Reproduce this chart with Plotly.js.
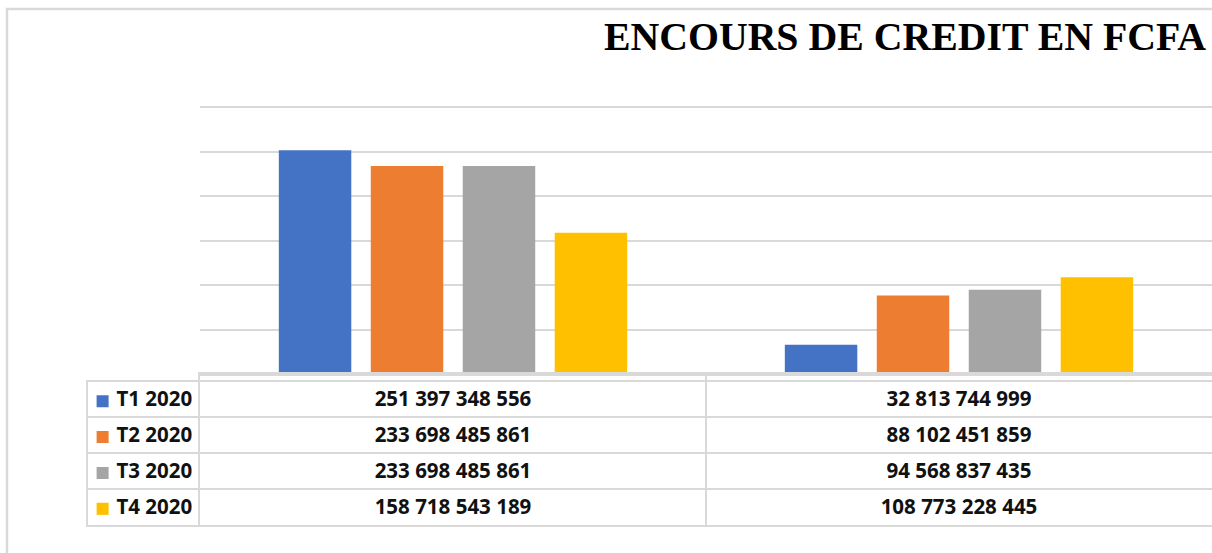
<!DOCTYPE html>
<html>
<head>
<meta charset="utf-8">
<script src="https://cdn.plot.ly/plotly-3.0.1.min.js"></script>
<style>html,body{margin:0;padding:0;background:#fff;}#chart{width:1212px;height:553px;}</style>
</head>
<body>
<div id="chart"></div>
<script>
// ---- data ----
var categories = ['Catégorie 1', 'Catégorie 2'];
var seriesNames = ['T1 2020', 'T2 2020', 'T3 2020', 'T4 2020'];
var t1 = [251397348556, 32813744999];
var t2 = [233698485861, 88102451859];
var t3 = [233698485861, 94568837435];
var t4 = [158718543189, 108773228445];
var seriesColors = ['#4472C4', '#ED7D31', '#A5A5A5', '#FFC000'];
var chartTitle = 'ENCOURS DE CREDIT EN FCFA';

var W = 1212, H = 553;
var seriesValues = [t1, t2, t3, t4];
var GRID = '#d9d9d9';
var TXT = '#111111';
var FONT = 'Noto Sans, Open Sans, sans-serif';
var FS = 20.5;

function fmt(v) {
  return String(v).replace(/\B(?=(\d{3})+(?!\d))/g, ' ');
}

var traces = [];

// bars
seriesValues.forEach(function (vals, i) {
  traces.push({
    type: 'bar', x: categories, y: vals, name: seriesNames[i],
    marker: {color: seriesColors[i]}, hoverinfo: 'skip',
    xaxis: 'x', yaxis: 'y'
  });
});

// data table values: one text trace per series row, placed on the table axes
seriesValues.forEach(function (vals, i) {
  traces.push({
    type: 'scatter', mode: 'text',
    x: categories,
    y: categories.map(function () { return i + 0.55; }),
    text: vals.map(fmt),
    textposition: 'middle center',
    textfont: {family: FONT, size: FS, color: TXT, weight: 'bold'},
    hoverinfo: 'skip',
    xaxis: 'x2', yaxis: 'y2'
  });
});

// legend column (series keys)
traces.push({
  type: 'scatter', mode: 'markers+text',
  x: seriesNames.map(function () { return 0; }),
  y: seriesNames.map(function (n, i) { return i + 0.55; }),
  text: seriesNames.map(function (n) { return '\u00a0' + n; }),
  textposition: 'middle right',
  textfont: {family: FONT, size: FS, color: TXT, weight: 'bold'},
  marker: {symbol: 'square', size: 12, color: seriesColors},
  hoverinfo: 'skip',
  xaxis: 'x3', yaxis: 'y3'
});

var baseY = 1 - 374 / H;       // bar baseline / table top
var tableBottom = 1 - 525 / H;
var rowsTop = 1 - 381.5 / H;   // legend column top
var pxPerUnit = (374 - 107) / 300e9;
var yMax = 302e9;

var layout = {
  width: W, height: H,
  margin: {l: 0, r: 0, t: 0, b: 0},
  paper_bgcolor: 'white',
  plot_bgcolor: 'rgba(0,0,0,0)',
  showlegend: false,
  barmode: 'group',
  bargap: 0.273,
  bargroupgap: 0.212,
  title: {
    text: '<b>' + chartTitle + '</b>',
    font: {family: 'Liberation Serif, Times New Roman, serif', size: 39.8, color: '#000000'},
    x: 905 / W, xanchor: 'center',
    y: 1 - 36 / H, yanchor: 'middle',
    xref: 'container', yref: 'container'
  },
  // bar chart
  xaxis: {
    domain: [200 / W, 1], anchor: 'y',
    showticklabels: false, ticks: '', showgrid: false,
    showline: true, linecolor: GRID, linewidth: 2, fixedrange: true
  },
  yaxis: {
    domain: [baseY, 1 - (374 - yMax * pxPerUnit) / H], anchor: 'x',
    range: [0, yMax], dtick: 50e9, tick0: 0,
    showticklabels: false, ticks: '',
    showgrid: true, gridcolor: GRID, gridwidth: 2,
    zeroline: false, fixedrange: true
  },
  // data table (value columns)
  xaxis2: {
    domain: [200 / W, 1], anchor: 'y2',
    type: 'category', range: [-0.5, 1.5],
    tickson: 'boundaries', showgrid: true, gridcolor: GRID, gridwidth: 2,
    showticklabels: false, ticks: '',
    showline: true, mirror: true, linecolor: GRID, linewidth: 2,
    zeroline: false, fixedrange: true
  },
  yaxis2: {
    domain: [tableBottom, baseY], anchor: 'x2',
    range: [4, -0.2],
    tickvals: [0, 1, 2, 3],
    showgrid: true, gridcolor: GRID, gridwidth: 2,
    showticklabels: false, ticks: '',
    showline: true, mirror: true, linecolor: GRID, linewidth: 2,
    zeroline: false, fixedrange: true
  },
  // legend column
  xaxis3: {
    domain: [88 / W, 200 / W], anchor: 'y3',
    range: [-0.15, 1],
    showgrid: false, showticklabels: false, ticks: '',
    showline: true, mirror: true, linecolor: GRID, linewidth: 2,
    zeroline: false, fixedrange: true
  },
  yaxis3: {
    domain: [tableBottom, rowsTop], anchor: 'x3',
    range: [4, 0], side: 'left',
    tickvals: [1, 2, 3],
    showgrid: true, gridcolor: GRID, gridwidth: 2,
    showticklabels: false, ticks: '',
    showline: true, mirror: false, linecolor: GRID, linewidth: 2,
    zeroline: false, fixedrange: true
  },
  shapes: [{
    type: 'rect', xref: 'paper', yref: 'paper',
    x0: 7 / W, x1: 1.05, y0: -0.05, y1: 1 - 9 / H,
    line: {color: GRID, width: 2.5},
    fillcolor: 'rgba(0,0,0,0)',
    layer: 'below'
  }]
};

Plotly.newPlot('chart', traces, layout, {displayModeBar: false, staticPlot: true});
</script>
</body>
</html>
